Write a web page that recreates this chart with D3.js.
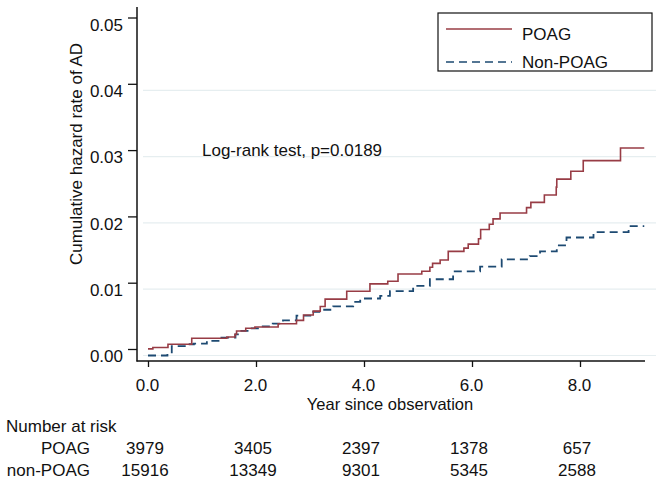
<!DOCTYPE html>
<html>
<head>
<meta charset="utf-8">
<script src="https://cdn.jsdelivr.net/npm/d3@7"></script>
<style>
  body { margin: 0; background: #fff; }
  svg text { font-family: "Liberation Sans", Arial, sans-serif; fill: #111; }
</style>
</head>
<body>
<svg id="chart"></svg>
<script>
// Cumulative hazard, step points (years, rate)
var poagYears = [0, 0.09, 0.37, 0.81, 1.46, 1.61, 1.64, 1.81, 1.98, 2.41, 2.75, 2.88, 3.06, 3.19, 3.28, 3.68,
  4.11, 4.44, 4.63, 5.07, 5.22, 5.27, 5.41, 5.56, 5.85, 5.93, 6.12, 6.16, 6.32, 6.39, 6.52,
  7.01, 7.09, 7.34, 7.56, 7.57, 7.83, 8.06, 8.75, 9.19];
var poagHazard = [0.0010, 0.0012, 0.0017, 0.0026, 0.0028, 0.0032, 0.0037, 0.0041, 0.0043, 0.0048, 0.0053, 0.0061, 0.0067, 0.0074, 0.0085, 0.0097,
  0.0108, 0.0112, 0.0123, 0.0127, 0.0133, 0.0139, 0.0144, 0.0157, 0.0162, 0.0168, 0.0176, 0.0190, 0.0198, 0.0206, 0.0215,
  0.0223, 0.0231, 0.0242, 0.0254, 0.0266, 0.0278, 0.0294, 0.0313, 0.0313];

var nonPoagYears = [0, 0.36, 0.44, 0.72, 0.85, 1.09, 1.36, 1.62, 1.70, 1.89, 2.07, 2.31, 2.50, 2.75, 3.06, 3.22,
  3.43, 3.80, 3.93, 4.30, 4.48, 4.91, 5.22, 5.65, 6.15, 6.55, 7.07, 7.26, 7.57, 7.75, 8.25, 8.90, 9.19];
var nonPoagHazard = [0.0000, 0.0003, 0.0014, 0.0017, 0.0018, 0.0022, 0.0027, 0.0032, 0.0037, 0.0041, 0.0044, 0.0048, 0.0053, 0.0060, 0.0066, 0.0069,
  0.0074, 0.0081, 0.0086, 0.0090, 0.0097, 0.0105, 0.0115, 0.0127, 0.0134, 0.0145, 0.0150, 0.0157, 0.0166, 0.0178, 0.0186, 0.0195, 0.0195];

var xTicks = [0, 2, 4, 6, 8];
var yTicks = [0, 0.01, 0.02, 0.03, 0.04, 0.05];
var gridTicks = [0, 0.01, 0.02, 0.03, 0.04];

// Number at risk table
var riskYears = [0, 2, 4, 6, 8];
var poagRisk = [3979, 3405, 2397, 1378, 657];
var nonPoagRisk = [15916, 13349, 9301, 5345, 2588];

var seriesNames = ["POAG", "Non-POAG"];
var riskRowNames = ["POAG", "non-POAG"];
var pValueText = "Log-rank test, p=0.0189";

var width = 664, height = 483;
var red = "#983c45", blue = "#1d4a72";

var svg = d3.select("#chart")
    .attr("width", width)
    .attr("height", height);

var x = d3.scaleLinear().domain([0, 8]).range([148, 580]);
var y = d3.scaleLinear().domain([0, 0.05]).range([355.5, 24]);

// gridlines
svg.append("g").selectAll("line")
    .data(gridTicks)
  .enter().append("line")
    .attr("x1", 143).attr("x2", 656)
    .attr("y1", function(d) { return y(d); })
    .attr("y2", function(d) { return y(d); })
    .attr("stroke", "#e6eef0")
    .attr("stroke-width", 1.2);

// y axis (tick marks sit a few px above labels, as in the original)
var yAxis = svg.append("g")
    .attr("transform", "translate(137,0)")
    .call(d3.axisLeft(y).tickValues(yTicks).tickFormat(d3.format(".2f")).tickSize(9).tickPadding(5));
yAxis.select(".domain").remove();
yAxis.selectAll("line").attr("stroke", "#111").attr("stroke-width", 1.3).attr("transform", "translate(0,-6.5)");
yAxis.selectAll("text").style("font-size", "17px").attr("dy", "0.36em");

var xAxis = svg.append("g")
    .attr("transform", "translate(0,361)")
    .call(d3.axisBottom(x).tickValues(xTicks).tickFormat(d3.format(".1f")).tickSize(6).tickPadding(12));
xAxis.select(".domain").remove();
xAxis.selectAll("line").attr("stroke", "#111").attr("stroke-width", 1.3);
xAxis.selectAll("text").style("font-size", "17px").attr("dx", "-1");

// axis lines
svg.append("line").attr("x1", 137).attr("x2", 137).attr("y1", 7).attr("y2", 361.5)
    .attr("stroke", "#111").attr("stroke-width", 1.5);
svg.append("line").attr("x1", 136.5).attr("x2", 645).attr("y1", 361).attr("y2", 361)
    .attr("stroke", "#111").attr("stroke-width", 1.5);

// step curves
var line = d3.line()
    .x(function(d) { return x(d[0]); })
    .y(function(d) { return y(d[1]); })
    .curve(d3.curveStepAfter);

svg.append("path")
    .datum(d3.zip(nonPoagYears, nonPoagHazard))
    .attr("d", line)
    .attr("fill", "none")
    .attr("stroke", blue)
    .attr("stroke-width", 1.8)
    .attr("stroke-dasharray", "8,5");

svg.append("path")
    .datum(d3.zip(poagYears, poagHazard))
    .attr("d", line)
    .attr("fill", "none")
    .attr("stroke", red)
    .attr("stroke-width", 1.6);

// axis titles
svg.append("text")
    .attr("transform", "translate(82,154) rotate(-90)")
    .attr("text-anchor", "middle")
    .style("font-size", "17px")
    .text("Cumulative hazard rate of AD");

svg.append("text")
    .attr("x", 390).attr("y", 410)
    .attr("text-anchor", "middle")
    .style("font-size", "16.5px")
    .text("Year since observation");

svg.append("text")
    .attr("x", 202).attr("y", 155.5)
    .style("font-size", "17px")
    .text(pValueText);

// legend
var legend = svg.append("g");
legend.append("rect")
    .attr("x", 438).attr("y", 13).attr("width", 214).attr("height", 58)
    .attr("fill", "#fff").attr("stroke", "#111").attr("stroke-width", 1.2);
legend.append("line").attr("x1", 446).attr("x2", 512).attr("y1", 29).attr("y2", 29)
    .attr("stroke", red).attr("stroke-width", 1.5);
legend.append("line").attr("x1", 446).attr("x2", 512).attr("y1", 62).attr("y2", 62)
    .attr("stroke", blue).attr("stroke-width", 1.5).attr("stroke-dasharray", "8,5");
legend.selectAll("text.lab")
    .data(seriesNames)
  .enter().append("text")
    .attr("class", "lab")
    .attr("x", 522)
    .attr("y", function(d, i) { return i ? 68 : 39.5; })
    .style("font-size", "17px")
    .text(function(d) { return d; });

// number at risk table
svg.append("text").attr("x", 6).attr("y", 432).style("font-size", "17px").text("Number at risk");

[poagRisk, nonPoagRisk].forEach(function(row, r) {
  var rowY = r ? 476 : 454;
  svg.append("text")
      .attr("x", 90).attr("y", rowY)
      .attr("text-anchor", "end")
      .style("font-size", "17px")
      .text(riskRowNames[r]);
  svg.append("g").selectAll("text")
      .data(row)
    .enter().append("text")
      .attr("x", function(d, i) { return x(riskYears[i]) - 3; })
      .attr("y", rowY)
      .attr("text-anchor", "middle")
      .style("font-size", "17px")
      .text(function(d) { return d; });
});
</script>
</body>
</html>
